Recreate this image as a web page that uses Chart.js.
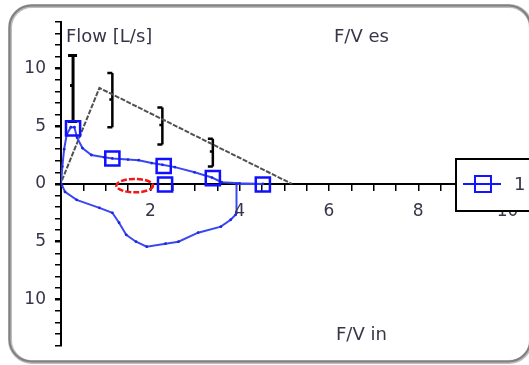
<!DOCTYPE html>
<html><head><meta charset="utf-8">
<script src="https://cdn.jsdelivr.net/npm/chart.js@4.4.0/dist/chart.umd.min.js"></script>
<style>html,body{margin:0;padding:0;background:#fff}canvas{display:block}</style>
</head><body>
<canvas id="c" width="529" height="365"></canvas>
<script>
// ---- texts ----
const yTitle = 'Flow [L/s]';
const expTitle = 'F/V es';
const inTitle = 'F/V in';
const seriesName = '1';
const xTickLabels = [2, 4, 6, 8, 10];
const yTickLabels = [-10, -5, 0, 5, 10];

// ---- predicted curve ----
const predX = [0.02, 0.86, 5.17];
const predY = [0.3, 8.3, 0];

// ---- predicted error bars ----
const errX    = [0.27, 1.15, 2.27, 3.40];
const errMid  = [8.5, 7.3, 5.1, 2.8];
const errLow  = [5.4, 4.9, 3.4, 1.5];
const errHigh = [11.1, 9.6, 6.6, 3.9];

// ---- measured flow/volume loop ----
const loopX = [0.00, 0.03, 0.07, 0.13, 0.22, 0.30, 0.36, 0.48, 0.68, 0.97, 1.15, 1.50, 1.74, 2.03, 2.27, 2.55, 2.99, 3.38, 3.60, 4.00, 4.52,
               3.93, 3.93, 3.91, 3.80, 3.58, 3.07, 2.63, 2.34, 1.92, 1.68, 1.46, 1.30, 1.15, 0.86, 0.35, 0.09, 0.02, 0.00];
const loopY = [0.00, 1.50, 3.00, 4.30, 4.90, 4.90, 4.00, 3.10, 2.50, 2.30, 2.20, 2.10, 2.05, 1.80, 1.65, 1.45, 1.00, 0.55, 0.15, 0.05, 0.00,
               0.00, -2.50, -2.67, -3.10, -3.70, -4.22, -5.00, -5.17, -5.43, -5.00, -4.40, -3.36, -2.50, -2.07, -1.38, -0.69, -0.09, 0.00];

// ---- square markers of series "1" ----
const markX = [0.27, 1.15, 2.30, 2.33, 3.40, 4.52];
const markY = [4.8, 2.2, 1.55, -0.05, 0.5, -0.05];

// ---- red marked region ----
const ellipseCenter = [1.65, -0.15];
const ellipseRadii  = [0.41, 0.58];

const FONT = '"DejaVu Sans", Verdana, sans-serif';
const TXT = '#3a3448';
const pts = (xs, ys) => xs.map((v, i) => ({x: v, y: ys[i]}));

const deco = {
  id: 'deco',
  beforeDraw(chart) {
    const ctx = chart.ctx;
    ctx.save();
    ctx.strokeStyle = '#bdbdbd';
    ctx.lineWidth = 4;
    ctx.beginPath();
    ctx.roundRect(10, 6, 521, 356, 22);
    ctx.stroke();
    ctx.strokeStyle = '#808080';
    ctx.lineWidth = 2;
    ctx.beginPath();
    ctx.roundRect(9.5, 5.5, 521, 356, 22);
    ctx.stroke();
    ctx.restore();
  },
  beforeDatasetsDraw(chart) {
    const {ctx, scales: {x, y}} = chart;
    ctx.save();
    ctx.strokeStyle = '#000';
    errX.forEach((v, i) => {
      const px = x.getPixelForValue(v);
      const t = y.getPixelForValue(errHigh[i]);
      const b = y.getPixelForValue(errLow[i]);
      const m = y.getPixelForValue(errMid[i]);
      ctx.lineWidth = i === 0 ? 3 : 2.5;
      const capL = 5, capR = i === 0 ? 4 : 0;
      ctx.beginPath();
      ctx.moveTo(px, t); ctx.lineTo(px, b);
      ctx.moveTo(px - capL, t); ctx.lineTo(px + capR, t);
      ctx.moveTo(px - capL, b); ctx.lineTo(px + capR, b);
      ctx.moveTo(px - 3, m); ctx.lineTo(px, m);
      ctx.stroke();
    });
    const cx = x.getPixelForValue(ellipseCenter[0]);
    const cy = y.getPixelForValue(ellipseCenter[1]);
    const rx = Math.abs(x.getPixelForValue(ellipseCenter[0] + ellipseRadii[0]) - cx);
    const ry = Math.abs(y.getPixelForValue(ellipseCenter[1] + ellipseRadii[1]) - cy);
    ctx.strokeStyle = '#f01818';
    ctx.lineWidth = 2.5;
    ctx.setLineDash([6, 2]);
    ctx.beginPath();
    ctx.ellipse(cx, cy, rx, ry, 0, 0, Math.PI * 2);
    ctx.stroke();
    ctx.restore();
  },
  afterDraw(chart) {
    const {ctx, scales: {x, y}} = chart;
    ctx.save();
    ctx.fillStyle = TXT;
    ctx.textBaseline = 'middle';
    // x tick labels under the axis
    ctx.font = '17px ' + FONT;
    ctx.textAlign = 'center';
    const y0 = y.getPixelForValue(0);
    xTickLabels.forEach(v => ctx.fillText(String(v), x.getPixelForValue(v), y0 + 28));
    // axis titles
    ctx.font = '18px ' + FONT;
    ctx.textAlign = 'left';
    ctx.fillText(yTitle, 66, 37);
    ctx.fillText(expTitle, 334, 37);
    ctx.fillText(inTitle, 336, 335);
    // legend box
    ctx.fillStyle = '#fff';
    ctx.fillRect(456, 159, 80, 52);
    ctx.strokeStyle = '#000';
    ctx.lineWidth = 2;
    ctx.strokeRect(456, 159, 80, 52);
    ctx.strokeStyle = '#1414ff';
    ctx.beginPath();
    ctx.moveTo(463, 184); ctx.lineTo(501, 184);
    ctx.stroke();
    ctx.strokeRect(475, 176, 16, 16);
    ctx.fillStyle = TXT;
    ctx.font = '18px ' + FONT;
    ctx.fillText(chart.data.datasets[2].label, 514, 185);
    ctx.restore();
  }
};

new Chart(document.getElementById('c'), {
  type: 'scatter',
  data: {
    datasets: [
      {label: 'pred', data: pts(predX, predY), showLine: true, borderColor: '#505050', borderWidth: 2,
       borderDash: [5, 1.5], pointRadius: 0, order: 3},
      {label: 'loop', data: pts(loopX, loopY), showLine: true, borderColor: '#3b48f2', borderWidth: 2,
       pointRadius: 1.4, pointBackgroundColor: '#1c28e0', pointBorderWidth: 0, order: 2},
      {label: seriesName, data: pts(markX, markY), showLine: false, pointStyle: 'rect', pointRadius: 10,
       borderColor: '#1010ff', borderWidth: 2.5, backgroundColor: 'rgba(0,0,0,0)', order: 1}
    ]
  },
  options: {
    responsive: false,
    animation: false,
    layout: {padding: {left: 0, top: 22, right: 6, bottom: 17}},
    plugins: {legend: {display: false}, tooltip: {enabled: false}},
    scales: {
      x: {
        type: 'linear', position: {y: 0}, min: 0, max: 10.2,
        ticks: {stepSize: 0.5, autoSkip: false, maxRotation: 0, padding: 0,
                font: {family: FONT, size: 17},
                callback: () => ''},
        grid: {drawOnChartArea: false, tickLength: 6, color: '#000', lineWidth: 1.5},
        border: {display: true, color: '#000', width: 2}
      },
      y: {
        type: 'linear', min: -14, max: 14,
        afterFit(s) { s.width = 61; },
        ticks: {stepSize: 1, autoSkip: false, padding: 9, color: TXT,
                font: {family: FONT, size: 17},
                callback: v => yTickLabels.includes(v) ? String(Math.abs(v)) : ''},
        grid: {drawOnChartArea: false, tickLength: 6, color: '#000',
               lineWidth: c => (c.tick && c.tick.value % 5 === 0) ? 2.5 : 1.5},
        border: {display: true, color: '#000', width: 2}
      }
    }
  },
  plugins: [deco]
});
</script>
</body></html>
